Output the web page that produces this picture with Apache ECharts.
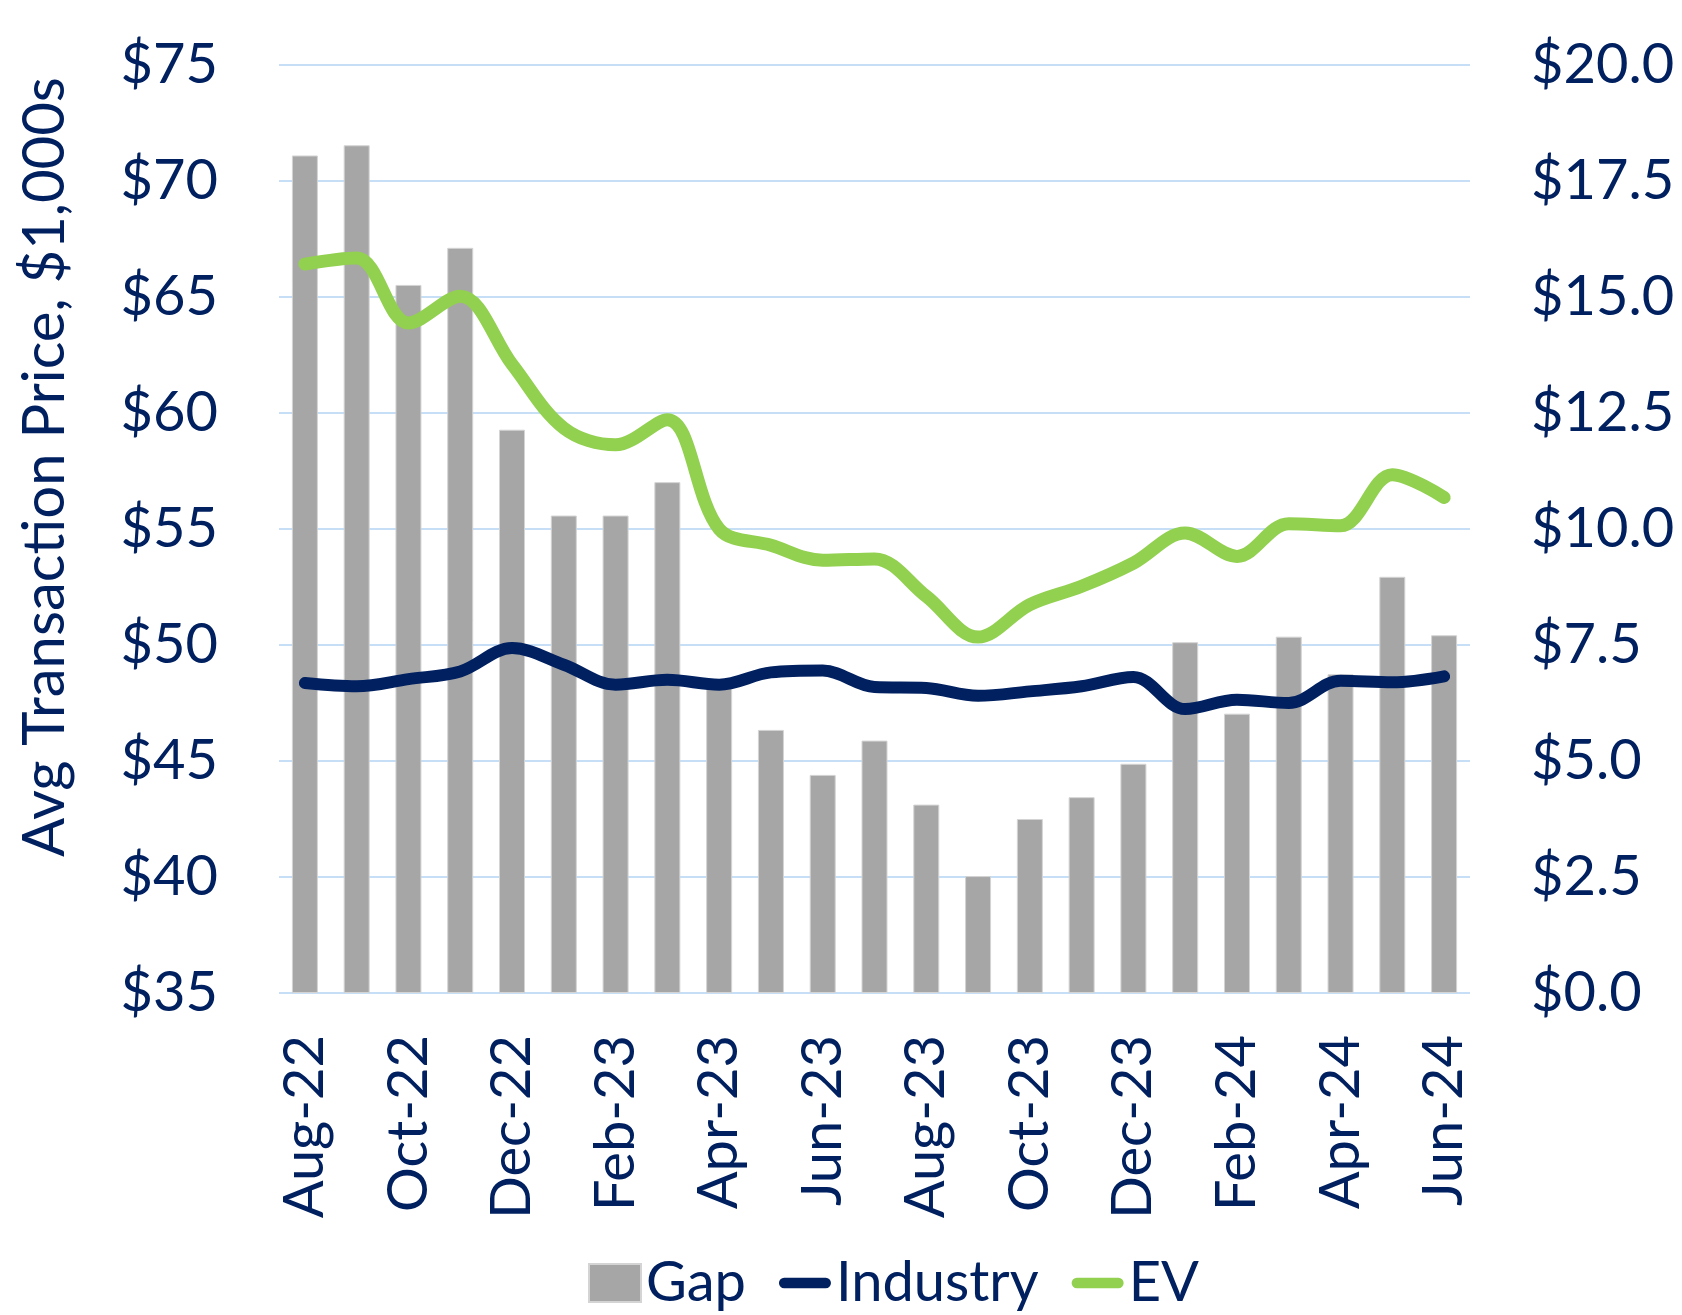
<!DOCTYPE html>
<html>
<head>
<meta charset="utf-8">
<title>Avg Transaction Price</title>
<script src="https://cdn.jsdelivr.net/npm/echarts@6/dist/echarts.min.js"></script>
<style>
  html, body { margin: 0; padding: 0; background: #fff; }
  #main { width: 1682px; height: 1315px; }
</style>
</head>
<body>
<div id="main"></div>
<script>
// months on the x axis
var months = ['Aug-22', 'Sep-22', 'Oct-22', 'Nov-22', 'Dec-22', 'Jan-23', 'Feb-23', 'Mar-23',
  'Apr-23', 'May-23', 'Jun-23', 'Jul-23', 'Aug-23', 'Sep-23', 'Oct-23', 'Nov-23', 'Dec-23',
  'Jan-24', 'Feb-24', 'Mar-24', 'Apr-24', 'May-24', 'Jun-24'];

// gap between EV and industry, right axis ($1,000s)
var gap = [18.05, 18.27, 15.26, 16.06, 12.14, 10.29, 10.29, 11.01, 6.7, 5.67, 4.70, 5.44,
  4.06, 2.52, 3.75, 4.22, 4.94, 7.56, 6.02, 7.68, 6.87, 8.97, 7.71];

// avg transaction price, left axis ($1,000s)
var industry = [48.36, 48.22, 48.53, 48.86, 49.87, 49.15, 48.29, 48.5, 48.29, 48.82, 48.9, 48.19,
  48.15, 47.81, 48.0, 48.22, 48.62, 47.24, 47.64, 47.5, 48.46, 48.39, 48.65];
var ev = [66.42, 66.68, 63.88, 65.03, 62.1, 59.35, 58.63, 59.71, 55.0, 54.3, 53.65, 53.71,
  52.1, 50.34, 51.74, 52.53, 53.53, 54.83, 53.82, 55.23, 55.14, 57.34, 56.36];

var navy = '#002060';
var font = 'Lato';

var chart = echarts.init(document.getElementById('main'));
option = {
    animation: false,
    textStyle: { fontFamily: font, color: navy },
    grid: { left: 279, right: 212, top: 65, bottom: 322, containLabel: false },
    legend: {
        left: 583,
        top: 1250,
        itemWidth: 52,
        itemHeight: 38,
        itemGap: 33,
        textStyle: { fontFamily: font, fontSize: 56, color: navy },
        data: [
            { name: 'Gap', icon: 'rect' },
            { name: 'Industry', icon: 'path://M6,0H54A6,6 0 0 1 54,12H6A6,6 0 0 1 6,0Z' },
            { name: 'EV', icon: 'path://M6,0H54A6,6 0 0 1 54,12H6A6,6 0 0 1 6,0Z' }
        ]
    },
    xAxis: {
        type: 'category',
        data: months,
        boundaryGap: true,
        axisLine: { show: false },
        axisTick: { show: false },
        axisLabel: {
            interval: 1,
            rotate: 90,
            margin: 42,
            fontFamily: font,
            fontSize: 56,
            color: navy
        }
    },
    yAxis: [
        {
            type: 'value',
            min: 35,
            max: 75,
            interval: 5,
            name: 'Avg Transaction Price, $1,000s',
            nameLocation: 'middle',
            nameGap: 205,
            nameTextStyle: { fontFamily: font, fontSize: 58, color: navy, padding: [0, 0, 0, 124] },
            axisLine: { show: false },
            axisTick: { show: false },
            splitLine: { lineStyle: { color: '#c6dff7', width: 2 } },
            axisLabel: {
                margin: 61,
                fontFamily: font,
                fontSize: 56,
                color: navy,
                formatter: function (v) { return '$' + v; }
            }
        },
        {
            type: 'value',
            min: 0,
            max: 20,
            interval: 2.5,
            position: 'right',
            axisLine: { show: false },
            axisTick: { show: false },
            splitLine: { show: false },
            axisLabel: {
                margin: 61,
                fontFamily: font,
                fontSize: 56,
                color: navy,
                formatter: function (v) { return '$' + v.toFixed(1); }
            }
        }
    ],
    series: [
        {
            name: 'Gap',
            type: 'bar',
            yAxisIndex: 1,
            barWidth: 26,
            itemStyle: { color: '#a6a6a6', borderColor: '#d4d4d4', borderWidth: 1 },
            data: gap
        },
        {
            name: 'Industry',
            type: 'line',
            yAxisIndex: 0,
            smooth: 0.35,
            showSymbol: false,
            symbol: 'none',
            itemStyle: { color: navy },
            lineStyle: { color: navy, width: 12, cap: 'round', join: 'round' },
            data: industry
        },
        {
            name: 'EV',
            type: 'line',
            yAxisIndex: 0,
            smooth: 0.35,
            showSymbol: false,
            symbol: 'none',
            itemStyle: { color: '#92d050' },
            lineStyle: { color: '#92d050', width: 13, cap: 'round', join: 'round' },
            data: ev
        }
    ]
};
chart.setOption(option);
</script>
</body>
</html>
